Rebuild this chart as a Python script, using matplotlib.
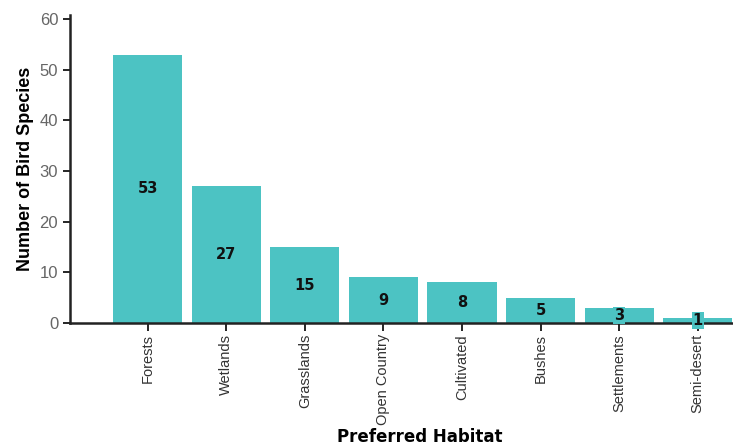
import matplotlib
matplotlib.use("Agg")
from matplotlib import pyplot as plt

habitats = ["Forests", "Wetlands", "Grasslands", "Open Country",
            "Cultivated", "Bushes", "Settlements", "Semi-desert"]
species = [53, 27, 15, 9, 8, 5, 3, 1]

plt.rcParams['font.family'] = ['Liberation Sans', 'DejaVu Sans']
teal = "#4cc3c3"

fig = plt.figure(figsize=(7.33, 4.46), dpi=100)
ax = fig.add_axes([70 / 733, 1 - 323 / 446, 1 - 70 / 733, 308 / 446])

pos = list(range(len(habitats)))
ax.bar(pos, species, width=0.88, color=teal, zorder=1)
for x, v in zip(pos, species):
    ax.text(x, v / 2, str(v), ha="center", va="center", fontsize=10.5,
            fontweight="bold", family="DejaVu Sans", color="#111111", zorder=3,
            bbox=dict(boxstyle="square,pad=0.05", fc=teal, ec="none"))

ax.set_xlim(-0.99, 7.45)
ax.set_ylim(0, 60.8)
ax.set_yticks(range(0, 61, 10))
ax.set_xticks(pos)
ax.set_xticklabels(habitats, rotation=90, fontsize=10.5, color="#333333")
ax.tick_params(axis="y", labelsize=12, labelcolor="#666666", length=5, width=1.2)
ax.tick_params(axis="x", length=6, width=1.2, pad=2)

for side in ["top", "right"]:
    ax.spines[side].set_visible(False)
for side in ["left", "bottom"]:
    ax.spines[side].set_linewidth(1.8)
    ax.spines[side].set_color("#222222")

ax.set_ylabel("Number of Bird Species", fontsize=13, fontweight="bold",
              labelpad=4)
ax.set_xlabel("Preferred Habitat", fontsize=12, fontweight="bold",
              family="DejaVu Sans")
ax.xaxis.set_label_coords(0.527, -0.34)

fig.savefig("out.png", dpi=100)
